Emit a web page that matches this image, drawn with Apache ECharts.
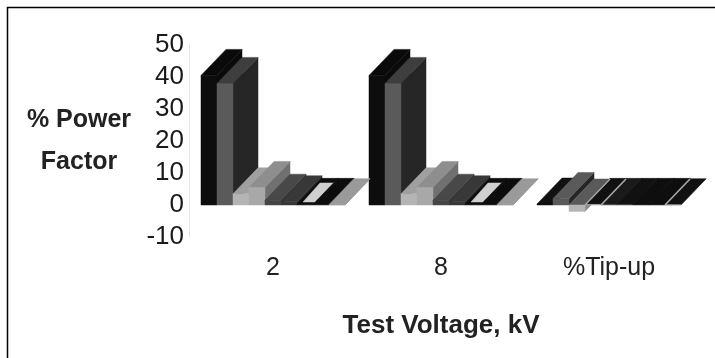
<!DOCTYPE html>
<html><head><meta charset="utf-8">
<style>html,body{margin:0;padding:0;background:#fff}#c{width:715px;height:358px;filter:blur(0.7px)}</style>
<script src="https://cdn.jsdelivr.net/npm/echarts@6/dist/echarts.min.js"></script>
</head><body><div id="c"></div>
<script>
const categories = ['2', '8', '%Tip-up'];
const yTicks = { min: -10, max: 50, interval: 10 };
const s1 = [40.5, 40.5, 0.3];
const s2 = [38, 38, 2];
const s3 = [3.5, 3.5, -2];
const s4 = [5.5, 5.5, 0.2];
const s5 = [1.5, 1.5, 0.2];
const s6 = [1, 1, 0.2];
const s7 = [0.2, 0.2, 0.2];
const s8 = [0.2, 0.2, 0.2];
const s9 = [0.1, 0.1, 0.1];
const values = [s1, s2, s3, s4, s5, s6, s7, s8, s9];
const fronts = ['#0d0d0d', '#5a5a5a', '#b4b4b4', '#a8a8a8', '#454545', '#383838', '#111111', '#111111', '#999999'];
const sides = ['#0a0a0a', '#262626', '#8a8a8a', '#707070', '#2a2a2a', '#222222', '#0c0c0c', '#0c0c0c', '#777777'];
const tops = ['#0a0a0a', '#3e3e3e', '#a0a0a0', '#8e8e8e', '#484848', '#383838', '#0d0d0d', '#0d0d0d', '#9a9a9a'];
const tipTops = ['#111111', '#5a5a5a', '#5a5a5a', '#111111', '#1a1a1a', '#111111', '#0e0e0e', '#0e0e0e', '#111111'];
const tipSeparators = [false, false, false, true, true, false, false, false, true];

const DX = 25, DY = 26, GROUP = 144 / 168;
function poly(points, fill) {
  return { type: 'polygon', shape: { points }, style: { fill, stroke: fill, lineWidth: 0.5 } };
}
function makeRender(k) {
  return function (params, api) {
    const cat = api.value(0), val = api.value(1);
    const band = api.size([1, 0])[0];
    const w = band * GROUP / values.length;
    const cx = api.coord([cat, 0])[0];
    const x0 = cx - band * GROUP / 2 + k * w, x1 = x0 + w;
    const y0 = api.coord([cat, 0])[1], yv = api.coord([cat, val])[1];
    const yTop = Math.min(y0, yv), yBot = Math.max(y0, yv);
    const isTip = cat === 2;
    const children = [
      poly([[x1, yTop], [x1 + DX, yTop - DY], [x1 + DX, yBot - DY], [x1, yBot]], sides[k]),
      poly([[x0, yTop], [x0 + DX, yTop - DY], [x1 + DX, yTop - DY], [x1, yTop]], isTip ? tipTops[k] : tops[k]),
      poly([[x0, yTop], [x1, yTop], [x1, yBot], [x0, yBot]], fronts[k])
    ];
    if (k === 6 && !isTip) {
      children.push(poly([[x0 + 6, y0 - 3], [x0 + 22, y0 - 3], [x0 + 38, y0 - 22], [x0 + 23, y0 - 22]], '#cfcfcf'));
    }
    if (isTip && tipSeparators[k]) {
      children.push({ type: 'line', shape: { x1: x0, y1: y0, x2: x0 + DX, y2: y0 - DY }, style: { stroke: '#a8a8a8', lineWidth: 1.6 } });
    }
    return { type: 'group', children };
  };
}
const series = values.map((v, k) => ({
  type: 'custom', name: 's' + (k + 1), clip: false,
  renderItem: makeRender(k),
  encode: { x: 0, y: 1 },
  data: v.map((y, i) => [i, y])
}));
const font = 'Liberation Sans';
const chart = echarts.init(document.getElementById('c'), null, { renderer: 'canvas', width: 715, height: 358 });
chart.setOption({
  animation: false,
  backgroundColor: '#fff',
  graphic: [{ type: 'polyline', shape: { points: [[7.5, 358], [7.5, 7.5], [715, 7.5]] }, style: { stroke: '#000', lineWidth: 1.5, fill: null } }],
  grid: { left: 189, right: 22, top: 45, bottom: 121, outerBoundsMode: 'none' },
  xAxis: {
    type: 'category', data: categories, position: 'bottom',
    axisLine: { show: false, onZero: false }, axisTick: { show: false },
    axisLabel: { fontFamily: font, fontSize: 25, color: '#222', margin: 19 },
    name: 'Test Voltage, kV', nameLocation: 'middle', nameGap: 76,
    nameTextStyle: { fontFamily: font, fontSize: 26, fontWeight: 'bold', color: '#222' }
  },
  yAxis: {
    type: 'value', min: yTicks.min, max: yTicks.max, interval: yTicks.interval,
    axisLine: { show: true, lineStyle: { color: '#e4e4e4', width: 1 } }, axisTick: { show: false },
    splitLine: { show: false },
    axisLabel: { fontFamily: font, fontSize: 26, color: '#1a1a1a', margin: 5 },
    name: '% Power\nFactor', nameLocation: 'middle', nameRotate: 0, nameGap: 110,
    nameTextStyle: { fontFamily: font, fontSize: 25, fontWeight: 'bold', color: '#222', lineHeight: 42, align: 'center', verticalAlign: 'middle' }
  },
  series
});
</script></body></html>
